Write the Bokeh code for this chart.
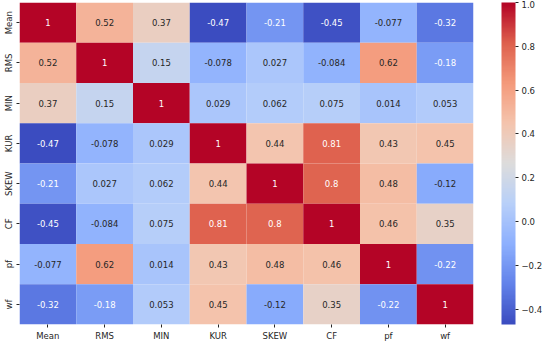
from bokeh.plotting import figure
from bokeh.models import (ColumnDataSource, LinearColorMapper, ColorBar, FixedTicker,
                          CustomJSTickFormatter, FactorRange)
from bokeh.embed import file_html
from bokeh.resources import INLINE
from bokeh.core.properties import value

labels = ["Mean", "RMS", "MIN", "KUR", "SKEW", "CF", "pf", "wf"]
row_mean = [1, 0.52, 0.37, -0.47, -0.21, -0.45, -0.077, -0.32]
row_rms = [0.52, 1, 0.15, -0.078, 0.027, -0.084, 0.62, -0.18]
row_min = [0.37, 0.15, 1, 0.029, 0.062, 0.075, 0.014, 0.053]
row_kur = [-0.47, -0.078, 0.029, 1, 0.44, 0.81, 0.43, 0.45]
row_skew = [-0.21, 0.027, 0.062, 0.44, 1, 0.8, 0.48, -0.12]
row_cf = [-0.45, -0.084, 0.075, 0.81, 0.8, 1, 0.46, 0.35]
row_pf = [-0.077, 0.62, 0.014, 0.43, 0.48, 0.46, 1, -0.22]
row_wf = [-0.32, -0.18, 0.053, 0.45, -0.12, 0.35, -0.22, 1]
matrix = [row_mean, row_rms, row_min, row_kur, row_skew, row_cf, row_pf, row_wf]
cbar_ticks = [-0.4, -0.2, 0.0, 0.2, 0.4, 0.6, 0.8, 1.0]
vmin, vmax = -0.47, 1.0

# coolwarm palette (interpolated anchors)
anchors = ["#3b4cc0", "#6282ea", "#8db0fe", "#b8d0f9", "#dddcdc",
           "#f4c4ad", "#f49a7b", "#de604d", "#b40426"]
def hex2rgb(h):
    return tuple(int(h[i:i + 2], 16) for i in (1, 3, 5))
argb = [hex2rgb(h) for h in anchors]
N = 256
palette = []
for i in range(N):
    t = i / (N - 1) * (len(argb) - 1)
    k = min(int(t), len(argb) - 2)
    f = t - k
    c = tuple(round(argb[k][j] + (argb[k + 1][j] - argb[k][j]) * f) for j in range(3))
    palette.append("#%02x%02x%02x" % c)

def color_of(v):
    idx = int((v - vmin) / (vmax - vmin) * (N - 1) + 0.5)
    idx = max(0, min(N - 1, idx))
    return palette[idx]

def lum(h):
    r, g, b = hex2rgb(h)
    def lin(c):
        c = c / 255
        return c / 12.92 if c <= 0.03928 else ((c + 0.055) / 1.055) ** 2.4
    return 0.2126 * lin(r) + 0.7152 * lin(g) + 0.0722 * lin(b)

xs, ys, vals, txt, tcol = [], [], [], [], []
for i, rname in enumerate(labels):
    for j, cname in enumerate(labels):
        v = matrix[i][j]
        xs.append(cname)
        ys.append(rname)
        vals.append(v)
        txt.append(format(v, ".2g"))
        tcol.append("#262626" if lum(color_of(v)) > 0.408 else "#ffffff")

src = ColumnDataSource(dict(x=xs, y=ys, v=vals, t=txt, tc=tcol))
mapper = LinearColorMapper(palette=palette, low=vmin, high=vmax)

p = figure(x_range=FactorRange(*labels), y_range=FactorRange(*reversed(labels)),
           frame_width=454, frame_height=322, output_backend="svg",
           toolbar_location=None, min_border_left=0, min_border_right=0,
           min_border_top=2, min_border_bottom=0)
p.rect(x="x", y="y", width=1, height=1, source=src,
       fill_color={"field": "v", "transform": mapper}, line_color=None)
p.text(x="x", y="y", text="t", source=src, text_color="tc",
       text_align="center", text_baseline="middle",
       text_font=value("DejaVu Sans"), text_font_size="8.5px")

p.outline_line_color = None
p.grid.grid_line_color = None
for ax in (p.xaxis[0], p.yaxis[0]):
    ax.axis_line_color = None
    ax.major_tick_line_color = "#262626"
    ax.major_tick_out = 3
    ax.major_tick_in = 0
    ax.major_label_text_font = "DejaVu Sans"
    ax.major_label_text_font_size = "8.5px"
    ax.major_label_text_color = "#262626"
    ax.major_label_standoff = 3
p.yaxis.major_label_orientation = "vertical"

cb = ColorBar(color_mapper=mapper, width=14, padding=0, margin=0, location=(28, 0),
              ticker=FixedTicker(ticks=cbar_ticks),
              formatter=CustomJSTickFormatter(code="return tick.toFixed(1).replace('-', '\u2212');"),
              major_tick_line_color="#262626", major_tick_out=3, major_tick_in=0,
              major_label_text_font="DejaVu Sans", major_label_text_font_size="8.5px",
              major_label_text_color="#262626", label_standoff=3,
              bar_line_color=None, border_line_color=None, background_fill_color=None)
p.add_layout(cb, "right")
p.min_border_right = 36

open("out.html", "w").write(file_html(p, INLINE))
